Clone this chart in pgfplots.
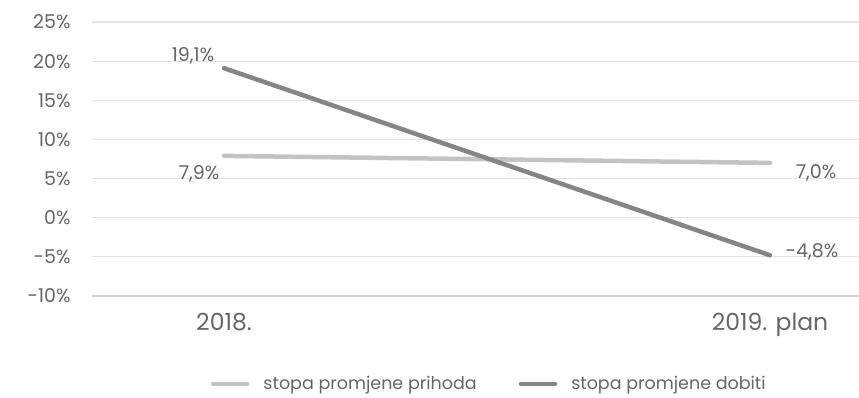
\documentclass[border=0pt]{standalone}
\usepackage{pgfplots}
\pgfplotsset{compat=1.18}
\usepackage{fontspec}
\setmainfont{Poppins}
\definecolor{txt}{HTML}{666666}
\definecolor{lightl}{HTML}{C3C3C3}
\definecolor{darkl}{HTML}{858585}
\definecolor{gridc}{HTML}{E3E3E3}
\definecolor{axisc}{HTML}{D4D4D4}
\begin{document}
\begin{tikzpicture}[x=1pt,y=1pt]
\useasboundingbox (0,0) rectangle (859,398);
\begin{axis}[
  at={(92pt,102pt)}, anchor=south west,
  scale only axis, width=767pt, height=274pt,
  xmin=-0.2418, xmax=1.163,
  ymin=-10, ymax=25,
  ytick={-10,-5,0,5,10,15,20,25},
  yticklabels={-10\%,-5\%,0\%,5\%,10\%,15\%,20\%,25\%},
  xtick={0,1}, xticklabels={2018.,2019. plan},
  ymajorgrids, grid style={gridc, line width=1.2pt},
  axis x line*=bottom, axis y line*=left,
  x axis line style={-, draw=axisc, line width=1.6pt},
  y axis line style={draw=none},
  major tick length=0pt,
  yticklabel style={font=\fontsize{19}{22}\selectfont, text=txt, xshift=-18pt},
  xticklabel style={font=\fontsize{23.5}{27}\selectfont, text=txt, yshift=-14pt},
  legend style={at={(0.518,-0.321)}, anchor=center, draw=none, legend columns=2,
    font=\fontsize{17.5}{20}\selectfont, text=txt,
    /tikz/every odd column/.append style={column sep=12pt},
    /tikz/every even column/.append style={column sep=40pt}},
  legend image code/.code={\draw[#1, line cap=round] (0pt,0pt) -- (34pt,0pt);},
  clip=false,
]
\addplot[lightl, line width=4.5pt, line cap=round] coordinates {(0,7.9) (1,7.0)};
\addlegendentry{stopa promjene prihoda}
\addplot[darkl, line width=4.5pt, line cap=round] coordinates {(0,19.1) (1,-4.8)};
\addlegendentry{stopa promjene dobiti}
\node[text=txt, font=\fontsize{19}{22}\selectfont] at ([xshift=-31pt,yshift=12.5pt]axis cs:0,19.1) {19,1\%};
\node[text=txt, font=\fontsize{19}{22}\selectfont] at ([xshift=-25pt,yshift=-17.5pt]axis cs:0,7.9) {7,9\%};
\node[text=txt, font=\fontsize{19}{22}\selectfont] at ([xshift=46pt,yshift=-9.5pt]axis cs:1,7.0) {7,0\%};
\node[text=txt, font=\fontsize{19}{22}\selectfont] at ([xshift=42pt,yshift=3.6pt]axis cs:1,-4.8) {-4,8\%};
\end{axis}
\end{tikzpicture}
\end{document}
